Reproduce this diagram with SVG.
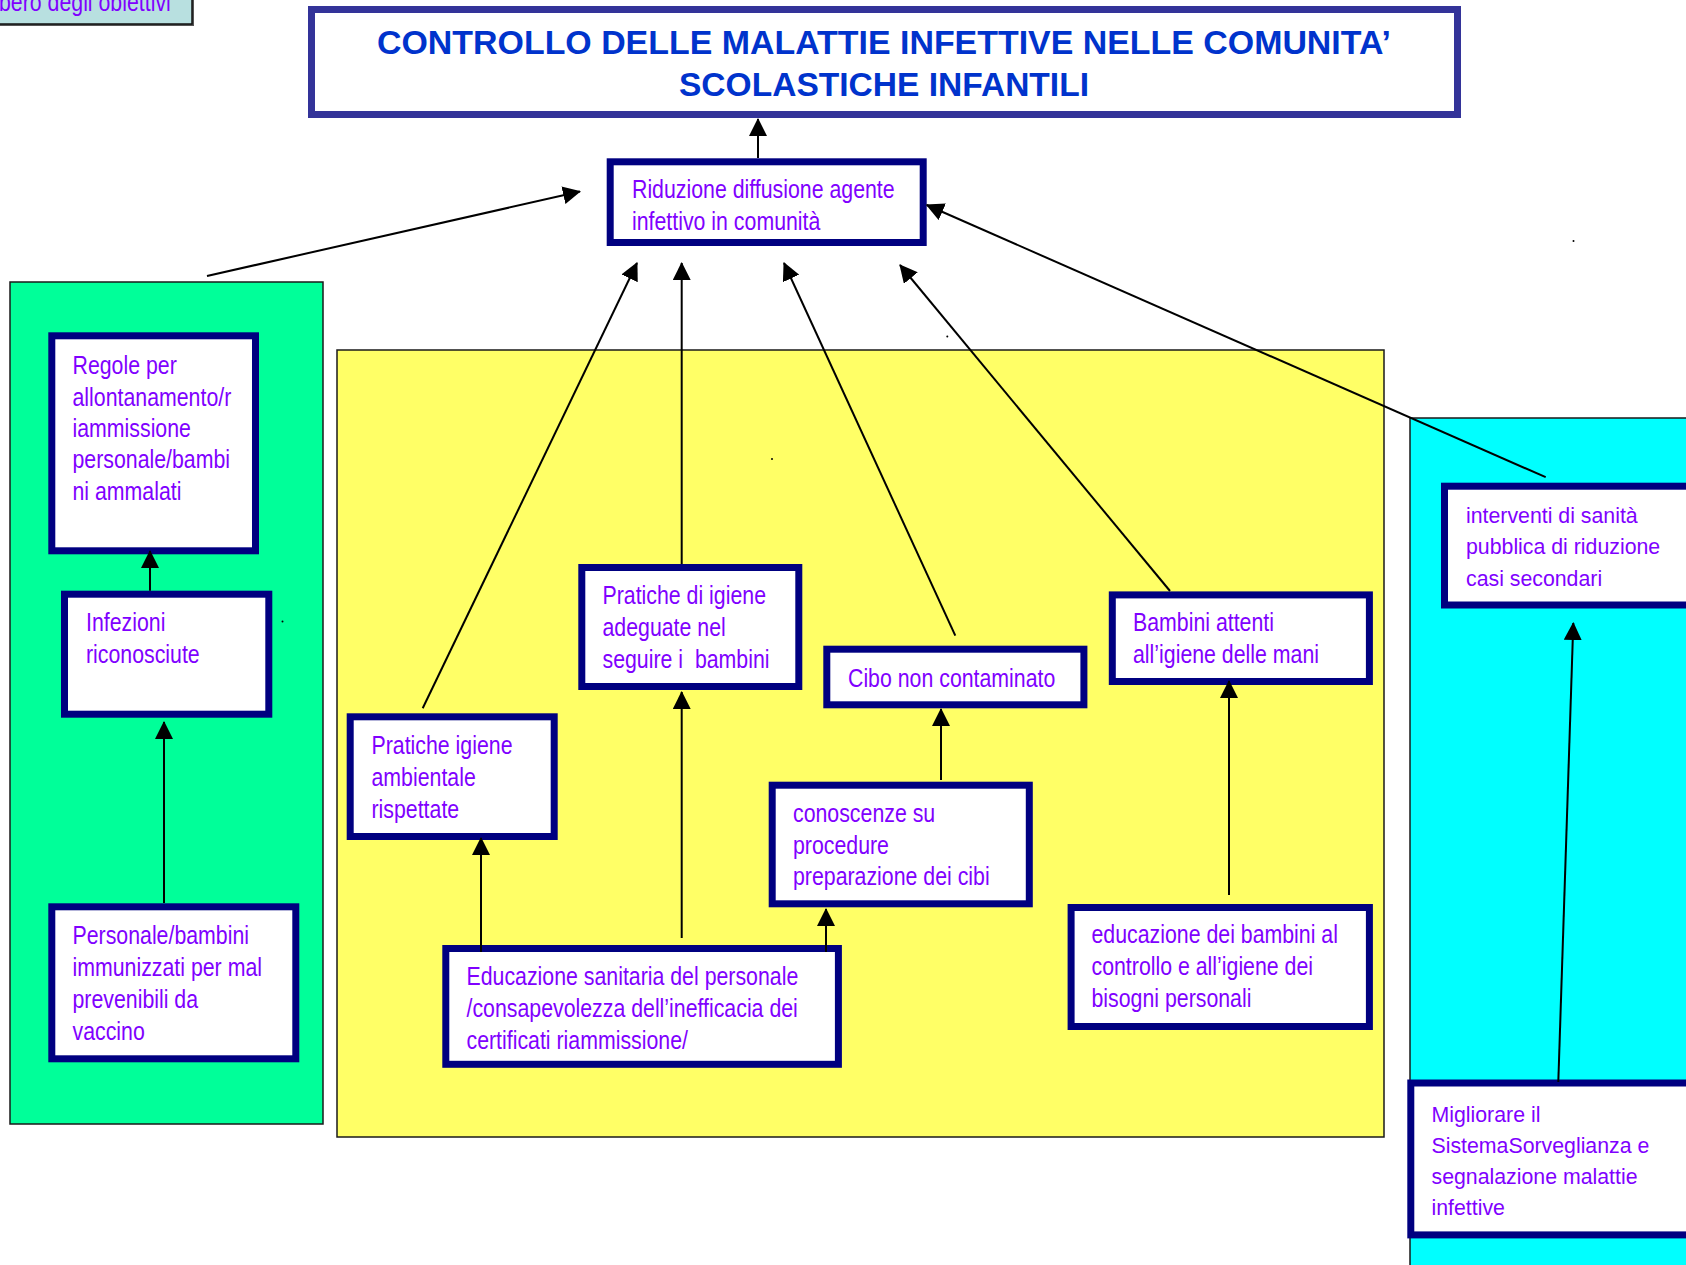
<svg xmlns="http://www.w3.org/2000/svg" width="1686" height="1265" viewBox="0 0 1686 1265">
<defs>
<style>
.bg{fill:#ffffff}
.area{stroke:#1a1a1a;stroke-width:1.5}
.node{fill:#ffffff;stroke:#000080;stroke-width:7}
.t{font-family:"Liberation Sans",Arial,sans-serif;font-size:26px;fill:#8000ff}
.tw{font-family:"Liberation Sans",Arial,sans-serif;font-size:21.3px;fill:#8000ff}
.title{font-family:"Liberation Sans",Arial,sans-serif;font-weight:bold;font-size:34px;fill:#0033cc}
.c{stroke:#000;stroke-width:2;fill:none;marker-end:url(#ah)}
</style>
<marker id="ah" markerUnits="userSpaceOnUse" markerWidth="18" markerHeight="18" viewBox="0 0 18 18" refX="17" refY="9" orient="auto">
<path d="M0,0 L18,9 L0,18 Z" fill="#000"/>
</marker>
</defs>
<rect class="bg" x="0" y="0" width="1686" height="1265"/>

<g id="area-green"><rect class="area" x="10" y="282" width="313" height="842" fill="#00ff99"/></g>
<g id="area-yellow"><rect class="area" x="337" y="350" width="1047" height="787" fill="#ffff66"/></g>
<g id="area-cyan"><rect class="area" x="1410" y="418" width="290" height="860" fill="#00ffff"/></g>

<g id="label-albero">
<rect x="-6" y="-6" width="200" height="32" fill="#555"/>
<rect x="-8" y="-8" width="200" height="32" fill="#b8e0e0" stroke="#111" stroke-width="1.5"/>
<text class="t" transform="matrix(0.82,0,0,1,-1,0)" y="11">bero degli obiettivi</text>
</g>

<g id="title">
<rect x="311.5" y="9.5" width="1146" height="105" fill="#fff" stroke="#333399" stroke-width="7"/>
<text class="title" x="884" y="54" text-anchor="middle" textLength="1014" lengthAdjust="spacingAndGlyphs">CONTROLLO DELLE  MALATTIE INFETTIVE NELLE COMUNITA’</text>
<text class="title" x="884" y="96" text-anchor="middle" textLength="410" lengthAdjust="spacingAndGlyphs">SCOLASTICHE INFANTILI</text>
</g>

<g id="riduzione">
<rect class="node" x="610.2" y="161.8" width="313" height="80.7"/>
<text class="t" transform="matrix(0.82,0,0,1,632,0)" y="198">Riduzione diffusione agente</text>
<text class="t" transform="matrix(0.82,0,0,1,632,0)" y="230">infettivo in comunità</text>
</g>

<g id="regole">
<rect class="node" x="51.8" y="335.8" width="203.7" height="215"/>
<text class="t" transform="matrix(0.82,0,0,1,72.5,0)" y="374">Regole per</text>
<text class="t" transform="matrix(0.82,0,0,1,72.5,0)" y="406">allontanamento/r</text>
<text class="t" transform="matrix(0.82,0,0,1,72.5,0)" y="437">iammissione</text>
<text class="t" transform="matrix(0.82,0,0,1,72.5,0)" y="468.5">personale/bambi</text>
<text class="t" transform="matrix(0.82,0,0,1,72.5,0)" y="500">ni ammalati</text>
</g>

<g id="infezioni">
<rect class="node" x="64.5" y="594.2" width="204.3" height="120"/>
<text class="t" transform="matrix(0.82,0,0,1,86,0)" y="631.5">Infezioni</text>
<text class="t" transform="matrix(0.82,0,0,1,86,0)" y="663">riconosciute</text>
</g>

<g id="personale">
<rect class="node" x="51.8" y="906.8" width="244" height="152"/>
<text class="t" transform="matrix(0.82,0,0,1,72.5,0)" y="944">Personale/bambini</text>
<text class="t" transform="matrix(0.82,0,0,1,72.5,0)" y="976.5">immunizzati per mal</text>
<text class="t" transform="matrix(0.82,0,0,1,72.5,0)" y="1008">prevenibili da</text>
<text class="t" transform="matrix(0.82,0,0,1,72.5,0)" y="1040">vaccino</text>
</g>

<g id="pratiche-ambientale">
<rect class="node" x="350.2" y="716.8" width="204" height="119.7"/>
<text class="t" transform="matrix(0.82,0,0,1,371.5,0)" y="754">Pratiche igiene</text>
<text class="t" transform="matrix(0.82,0,0,1,371.5,0)" y="786">ambientale</text>
<text class="t" transform="matrix(0.82,0,0,1,371.5,0)" y="818">rispettate</text>
</g>

<g id="pratiche-igiene">
<rect class="node" x="581.8" y="567.5" width="217" height="119"/>
<text class="t" transform="matrix(0.82,0,0,1,602.5,0)" y="604">Pratiche di igiene</text>
<text class="t" transform="matrix(0.82,0,0,1,602.5,0)" y="636">adeguate nel</text>
<text class="t" transform="matrix(0.82,0,0,1,602.5,0)" y="668" xml:space="preserve">seguire i  bambini</text>
</g>

<g id="educazione-sanitaria">
<rect class="node" x="445.8" y="948.5" width="392.6" height="115.8"/>
<text class="t" transform="matrix(0.82,0,0,1,466.5,0)" y="985">Educazione sanitaria del personale</text>
<text class="t" transform="matrix(0.82,0,0,1,466.5,0)" y="1017.5">/consapevolezza dell’inefficacia dei</text>
<text class="t" transform="matrix(0.82,0,0,1,466.5,0)" y="1049">certificati riammissione/</text>
</g>

<g id="cibo">
<rect class="node" x="826.8" y="649.2" width="257.1" height="55.6"/>
<text class="t" transform="matrix(0.82,0,0,1,848,0)" y="687">Cibo non contaminato</text>
</g>

<g id="conoscenze">
<rect class="node" x="772.2" y="785.2" width="257.1" height="118.6"/>
<text class="t" transform="matrix(0.82,0,0,1,793,0)" y="822.5">conoscenze su</text>
<text class="t" transform="matrix(0.82,0,0,1,793,0)" y="854">procedure</text>
<text class="t" transform="matrix(0.82,0,0,1,793,0)" y="885.5">preparazione dei cibi</text>
</g>

<g id="bambini-attenti">
<rect class="node" x="1112.3" y="594.9" width="257.1" height="86.6"/>
<text class="t" transform="matrix(0.82,0,0,1,1133,0)" y="631.5">Bambini attenti</text>
<text class="t" transform="matrix(0.82,0,0,1,1133,0)" y="663">all’igiene delle mani</text>
</g>

<g id="educazione-bambini">
<rect class="node" x="1071.1" y="907.5" width="298.3" height="119"/>
<text class="t" transform="matrix(0.82,0,0,1,1091.5,0)" y="943">educazione dei bambini al</text>
<text class="t" transform="matrix(0.82,0,0,1,1091.5,0)" y="975.5">controllo e all’igiene dei</text>
<text class="t" transform="matrix(0.82,0,0,1,1091.5,0)" y="1007">bisogni personali</text>
</g>

<g id="interventi">
<rect class="node" x="1444.5" y="486.2" width="260" height="118.8"/>
<text class="tw" x="1466" y="522.5">interventi di sanità</text>
<text class="tw" x="1466" y="554">pubblica di riduzione</text>
<text class="tw" x="1466" y="586">casi secondari</text>
</g>

<g id="migliorare">
<rect class="node" x="1410.8" y="1083" width="300" height="151.9"/>
<text class="tw" x="1431.5" y="1121.5">Migliorare il</text>
<text class="tw" x="1431.5" y="1152.5">SistemaSorveglianza e</text>
<text class="tw" x="1431.5" y="1184">segnalazione malattie</text>
<text class="tw" x="1431.5" y="1215">infettive</text>
</g>

<g id="connectors">
<line class="c" x1="758" y1="158" x2="758" y2="119"/>
<line class="c" x1="207" y1="276" x2="580" y2="191.5"/>
<line class="c" x1="422.7" y1="708.3" x2="637" y2="263"/>
<line class="c" x1="681.7" y1="564" x2="681.7" y2="263"/>
<line class="c" x1="955.3" y1="635.7" x2="784" y2="263"/>
<line class="c" x1="1170" y1="591" x2="900" y2="265"/>
<line class="c" x1="1545.7" y1="477.2" x2="926.7" y2="205"/>
<line class="c" x1="150" y1="590.7" x2="150" y2="551"/>
<line class="c" x1="164" y1="903" x2="164" y2="722"/>
<line class="c" x1="481" y1="952" x2="481" y2="838"/>
<line class="c" x1="681.7" y1="938" x2="681.7" y2="692"/>
<line class="c" x1="826" y1="952" x2="826" y2="909"/>
<line class="c" x1="941" y1="780" x2="941" y2="709"/>
<line class="c" x1="1229" y1="895" x2="1229" y2="681"/>
<line class="c" x1="1558.3" y1="1082" x2="1573.3" y2="623"/>
</g>

<g id="dots" fill="#000">
<circle cx="1573.5" cy="241" r="1"/>
<circle cx="947.3" cy="336.6" r="1"/>
<circle cx="772" cy="459" r="1"/>
<circle cx="282.5" cy="621.5" r="1"/>
</g>
</svg>
